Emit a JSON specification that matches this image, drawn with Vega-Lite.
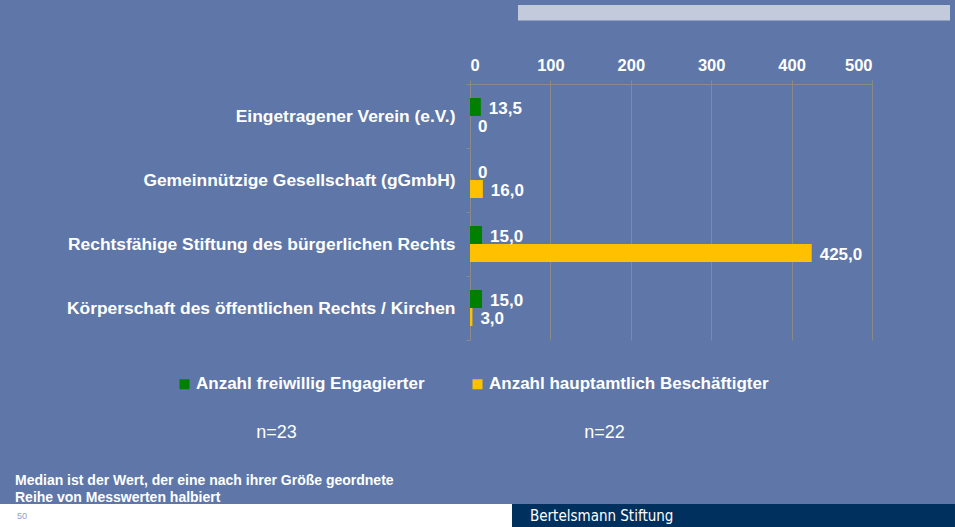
{
  "$schema": "https://vega.github.io/schema/vega-lite/v6.json",
  "width": 402,
  "height": 256,
  "autosize": {"type": "none"},
  "padding": {"left": 470, "top": 84, "right": 83, "bottom": 187},
  "background": "#5E77A8",
  "config": {
    "font": "Liberation Sans",
    "view": {"stroke": null},
    "locale": {"number": {"decimal": ",", "thousands": ".", "grouping": [3], "currency": ["", " €"]}}
  },
  "title": {
    "text": ["Median ist der Wert, der eine nach ihrer Größe geordnete", "Reihe von Messwerten halbiert"],
    "orient": "bottom",
    "anchor": "start",
    "frame": "group",
    "dx": -455,
    "offset": -53,
    "fontSize": 14,
    "fontWeight": "bold",
    "color": "white",
    "lineHeight": 17
  },
  "data": {
    "values": [
      {"org": "Eingetragener Verein (e.V.)", "series": "Anzahl freiwillig Engagierter", "value": 13.5},
      {"org": "Eingetragener Verein (e.V.)", "series": "Anzahl hauptamtlich Beschäftigter", "value": 0},
      {"org": "Gemeinnützige Gesellschaft (gGmbH)", "series": "Anzahl freiwillig Engagierter", "value": 0},
      {"org": "Gemeinnützige Gesellschaft (gGmbH)", "series": "Anzahl hauptamtlich Beschäftigter", "value": 16.0},
      {"org": "Rechtsfähige Stiftung des bürgerlichen Rechts", "series": "Anzahl freiwillig Engagierter", "value": 15.0},
      {"org": "Rechtsfähige Stiftung des bürgerlichen Rechts", "series": "Anzahl hauptamtlich Beschäftigter", "value": 425.0},
      {"org": "Körperschaft des öffentlichen Rechts / Kirchen", "series": "Anzahl freiwillig Engagierter", "value": 15.0},
      {"org": "Körperschaft des öffentlichen Rechts / Kirchen", "series": "Anzahl hauptamtlich Beschäftigter", "value": 3.0}
    ]
  },
  "encoding": {
    "y": {
      "field": "org",
      "type": "nominal",
      "sort": null,
      "scale": {"paddingInner": 0, "paddingOuter": 0},
      "axis": {
        "title": "n=22",
        "titleAngle": 0,
        "titleX": 134,
        "titleY": 348,
        "titleAlign": "center",
        "titleBaseline": "middle",
        "titleFontSize": 18,
        "titleFontWeight": "normal",
        "titleColor": "white",
        "domainColor": "#8a8a8a",
        "tickColor": "#8a8a8a",
        "tickSize": 4,
        "tickBand": "extent",
        "labelColor": "white",
        "labelFontSize": 17.4,
        "labelFontWeight": "bold",
        "labelPadding": 11,
        "labelLimit": 500,
        "grid": false
      }
    },
    "yOffset": {
      "field": "series",
      "type": "nominal",
      "sort": ["Anzahl freiwillig Engagierter", "Anzahl hauptamtlich Beschäftigter"],
      "scale": {"paddingInner": 0, "paddingOuter": 0.778}
    },
    "x": {
      "field": "value",
      "type": "quantitative",
      "scale": {"domain": [0, 500], "nice": false},
      "axis": {
        "orient": "top",
        "values": [0, 100, 200, 300, 400, 500],
        "title": "n=23",
        "titleX": -194,
        "titleY": 348,
        "titleAlign": "center",
        "titleBaseline": "middle",
        "titleFontSize": 18,
        "titleFontWeight": "normal",
        "titleColor": "white",
        "domainColor": "#8a8a8a",
        "tickColor": "#8a8a8a",
        "tickSize": 4,
        "gridColor": "#8a8a8a",
        "grid": true,
        "labelColor": "white",
        "labelFontSize": 16.5,
        "labelFontWeight": "bold",
        "labelPadding": 7
      }
    }
  },
  "layer": [
    {
      "mark": {"type": "bar"},
      "encoding": {
        "color": {
          "field": "series",
          "type": "nominal",
          "scale": {"domain": ["Anzahl freiwillig Engagierter", "Anzahl hauptamtlich Beschäftigter"], "range": ["#008000", "#FFC000"]},
          "legend": {
            "orient": "none",
            "legendX": -294,
            "legendY": 291.5,
            "direction": "horizontal",
            "title": null,
            "symbolType": "square",
            "symbolSize": 100,
            "symbolStrokeWidth": 0,
            "labelColor": "white",
            "labelFontSize": 17,
            "labelFontWeight": "bold",
            "labelOffset": 3,
            "labelLimit": 400,
            "columnPadding": 44,
            "padding": 0
          }
        }
      }
    },
    {
      "mark": {"type": "text", "align": "left", "baseline": "middle", "dx": 8, "dy": 2, "fontSize": 17, "fontWeight": "bold", "color": "white"},
      "encoding": {
        "text": {"condition": {"test": "datum.value === 0", "value": "0"}, "field": "value", "type": "quantitative", "format": ".1f"}
      }
    },
    {
      "mark": {"type": "text", "text": "", "color": "#C3CADC"},
      "encoding": {
        "opacity": {
          "datum": "Kopfleiste",
          "type": "nominal",
          "scale": {"range": [1]},
          "legend": {
            "orient": "none",
            "legendX": 48,
            "legendY": -81.25,
            "title": null,
            "padding": 0,
            "symbolType": "M-1,-0.78H42.2V0.78H-1Z",
            "symbolSize": 400,
            "symbolStrokeWidth": 0,
            "labelExpr": "''"
          }
        }
      }
    },
    {
      "mark": {"type": "text", "text": "", "color": "#FFFFFF"},
      "encoding": {
        "opacity": {
          "datum": "50",
          "type": "nominal",
          "scale": {"range": [1]},
          "legend": {
            "orient": "none",
            "legendX": -470,
            "legendY": 420,
            "title": null,
            "padding": 0,
            "symbolType": "M-1,-1H43.52V1H-1Z",
            "symbolSize": 529,
            "symbolStrokeWidth": 0,
            "labelColor": "#8EA0C8",
            "labelFontSize": 9,
            "labelOffset": -6,
            "labelLimit": 100
          }
        }
      }
    },
    {
      "mark": {"type": "text", "text": "", "color": "#00305E"},
      "encoding": {
        "opacity": {
          "datum": "Bertelsmann Stiftung",
          "type": "nominal",
          "scale": {"range": [1]},
          "legend": {
            "orient": "none",
            "legendX": 42,
            "legendY": 420,
            "title": null,
            "padding": 0,
            "symbolType": "M-1,-1H37.52V1H-1Z",
            "symbolSize": 529,
            "symbolStrokeWidth": 0,
            "labelColor": "white",
            "labelFontSize": 15,
            "labelFont": "DejaVu Sans Condensed",
            "labelOffset": -5,
            "labelLimit": 400
          }
        }
      }
    }
  ],
  "resolve": {"scale": {"opacity": "independent"}, "legend": {"opacity": "independent"}}
}
